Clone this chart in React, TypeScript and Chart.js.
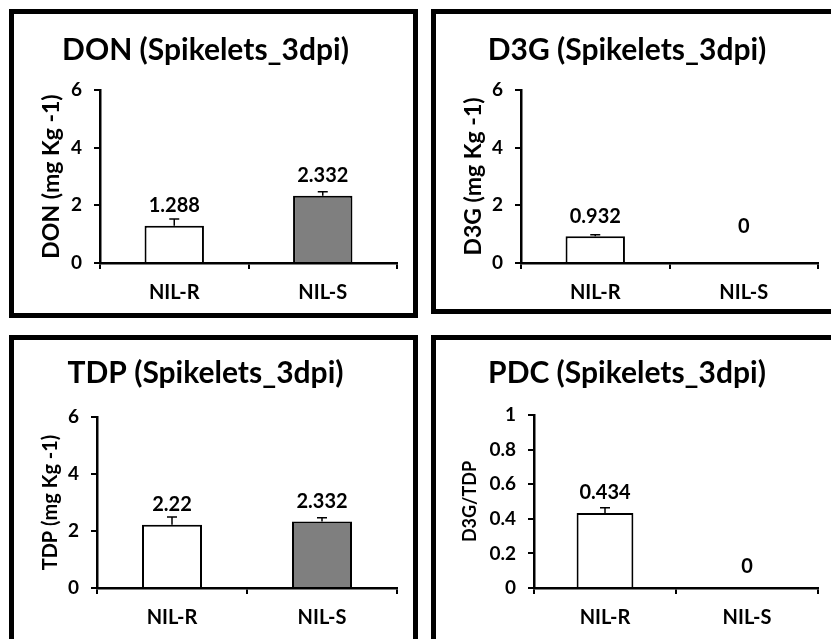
import React, { useEffect, useRef } from 'react';
import { Chart, registerables } from 'chart.js';

Chart.register(...registerables);

// ---- data ----
const categories = ['NIL-R', 'NIL-S'];
const donValues = [1.288, 2.332];
const donErrors = [0.24, 0.14];
const d3gValues = [0.932, 0];
const d3gErrors = [0.05, 0];
const tdpValues = [2.22, 2.332];
const tdpErrors = [0.27, 0.13];
const pdcValues = [0.434, 0];
const pdcErrors = [0.03, 0];
const barColors = ['#ffffff', '#7f7f7f'];

const FONT = 'Lato, "Open Sans", sans-serif';
const BORDER = 5;
const TITLE_SIZE = 30;
const TICK_SIZE = 19;
const CAT_SIZE = 20;
const LABEL_SIZE = 20;

type PanelCfg = {
  title: string;
  yTitle: string;
  yTitleSize: number;
  yMax: number;
  yStep: number;
  values: number[];
  errors: number[];
  box: { left: number; top: number; w: number; h: number };
  plot: { left: number; top: number; bottom: number; right: number };
  titleY: number;
  yTitleX: number;
  zeroLift: number;
};

const panels: PanelCfg[] = [
  {
    title: 'DON (Spikelets_3dpi)', yTitle: 'DON (mg Kg -1)', yTitleSize: 23,
    yMax: 6, yStep: 2, values: donValues, errors: donErrors,
    box: { left: 9, top: 9, w: 409, h: 309 },
    plot: { left: 86, top: 76, bottom: 249, right: 383 },
    titleY: 36, yTitleX: 38, zeroLift: 20,
  },
  {
    title: 'D3G (Spikelets_3dpi)', yTitle: 'D3G (mg Kg -1)', yTitleSize: 23,
    yMax: 6, yStep: 2, values: d3gValues, errors: d3gErrors,
    box: { left: 431, top: 9, w: 409, h: 305 },
    plot: { left: 85, top: 76, bottom: 249, right: 382 },
    titleY: 36, yTitleX: 38, zeroLift: 36,
  },
  {
    title: 'TDP (Spikelets_3dpi)', yTitle: 'TDP (mg Kg -1)', yTitleSize: 20,
    yMax: 6, yStep: 2, values: tdpValues, errors: tdpErrors,
    box: { left: 9, top: 335, w: 409, h: 320 },
    plot: { left: 83, top: 77, bottom: 248, right: 383 },
    titleY: 33, yTitleX: 37, zeroLift: 21,
  },
  {
    title: 'PDC (Spikelets_3dpi)', yTitle: 'D3G/TDP', yTitleSize: 18,
    yMax: 1, yStep: 0.2, values: pdcValues, errors: pdcErrors,
    box: { left: 431, top: 335, w: 409, h: 320 },
    plot: { left: 98, top: 75, bottom: 248, right: 382 },
    titleY: 33, yTitleX: 34, zeroLift: 21,
  },
];

function Panel({ cfg }: { cfg: PanelCfg }) {
  const ref = useRef<HTMLCanvasElement>(null);
  const cw = cfg.box.w - 2 * BORDER;
  const ch = cfg.box.h - 2 * BORDER;

  useEffect(() => {
    if (!ref.current) return;
    const c = cfg;
    const titleLH = TITLE_SIZE * 1.2;
    const yTitleLH = c.yTitleSize * 1.2;
    const catLH = CAT_SIZE * 1.2;

    const errorBars = {
      id: 'errorBars',
      afterDatasetsDraw(chart: any) {
        const ctx = chart.ctx;
        const meta = chart.getDatasetMeta(0);
        const ys = chart.scales.y;
        ctx.save();
        ctx.strokeStyle = '#000';
        ctx.lineWidth = 1.5;
        meta.data.forEach((bar: any, i: number) => {
          const v = c.values[i];
          const e = c.errors[i];
          if (!e) return;
          const y0 = ys.getPixelForValue(v);
          const y1 = ys.getPixelForValue(v + e);
          ctx.beginPath();
          ctx.moveTo(bar.x, y0);
          ctx.lineTo(bar.x, y1);
          ctx.moveTo(bar.x - 5, y1);
          ctx.lineTo(bar.x + 5, y1);
          ctx.stroke();
        });
        ctx.restore();
      },
    };

    const valueLabels = {
      id: 'valueLabels',
      afterDatasetsDraw(chart: any) {
        const ctx = chart.ctx;
        const meta = chart.getDatasetMeta(0);
        const ys = chart.scales.y;
        ctx.save();
        ctx.fillStyle = '#000';
        ctx.font = `bold ${LABEL_SIZE}px ${FONT}`;
        ctx.textAlign = 'center';
        ctx.textBaseline = 'middle';
        meta.data.forEach((bar: any, i: number) => {
          const v = c.values[i];
          const y = v === 0 ? ys.getPixelForValue(0) - c.zeroLift : ys.getPixelForValue(v) - 20;
          ctx.fillText(String(v), bar.x, y);
        });
        ctx.restore();
      },
    };

    const chart = new Chart(ref.current, {
      type: 'bar',
      data: {
        labels: categories,
        datasets: [
          {
            data: c.values,
            backgroundColor: barColors,
            borderColor: '#000',
            borderWidth: (ctx: any) => (ctx.raw === 0 ? 0 : 2),
            categoryPercentage: 1,
            barPercentage: 0.4,
          } as any,
        ],
      },
      options: {
        responsive: false,
        maintainAspectRatio: false,
        animation: false,
        layout: { padding: { left: 0, top: 0, right: cw - c.plot.right, bottom: 0 } },
        plugins: {
          legend: { display: false },
          tooltip: { enabled: false },
          title: {
            display: true,
            text: c.title,
            color: '#000',
            font: { family: FONT, size: TITLE_SIZE, weight: 'bold', lineHeight: 1.2 },
            padding: { top: c.titleY - titleLH / 2, bottom: c.plot.top - c.titleY - titleLH / 2 },
          },
        },
        scales: {
          x: {
            grid: { offset: true, drawOnChartArea: false, drawTicks: true, tickLength: 6, color: '#000', lineWidth: 2 },
            border: { display: true, color: '#000', width: 2.5 },
            ticks: {
              color: '#000',
              font: { family: FONT, size: CAT_SIZE, weight: 'bold', lineHeight: 1.2 },
              padding: 30 - 6 - catLH / 2,
            },
            afterFit: (s: any) => { s.height = ch - c.plot.bottom; },
          },
          y: {
            min: 0,
            max: c.yMax,
            grid: { drawOnChartArea: false, drawTicks: true, tickLength: 6, color: '#000', lineWidth: 2 },
            border: { display: true, color: '#000', width: 2.5 },
            ticks: {
              stepSize: c.yStep,
              color: '#000',
              padding: 12,
              font: { family: FONT, size: TICK_SIZE, weight: 'bold' },
              callback: (v: any) => String(Math.round(Number(v) * 10) / 10),
            },
            title: {
              display: true,
              text: c.yTitle,
              color: '#000',
              font: { family: FONT, size: c.yTitleSize, weight: 'bold', lineHeight: 1.2 },
              padding: { top: c.yTitleX - yTitleLH / 2, bottom: 0 },
            },
            afterFit: (s: any) => { s.width = c.plot.left; },
          },
        },
      } as any,
      plugins: [errorBars, valueLabels],
    });
    return () => chart.destroy();
  }, [cfg]);

  return (
    <div
      style={{
        position: 'absolute',
        left: cfg.box.left,
        top: cfg.box.top,
        width: cfg.box.w,
        height: cfg.box.h,
        boxSizing: 'border-box',
        border: `${BORDER}px solid #000`,
        background: '#fff',
      }}
    >
      <canvas ref={ref} width={cw} height={ch} style={{ display: 'block', width: cw, height: ch }} />
    </div>
  );
}

export default function App() {
  return (
    <div
      style={{
        position: 'fixed',
        left: 0,
        top: 0,
        width: 831,
        height: 639,
        overflow: 'hidden',
        background: '#fff',
      }}
    >
      {panels.map((p, i) => (
        <Panel key={i} cfg={p} />
      ))}
    </div>
  );
}
